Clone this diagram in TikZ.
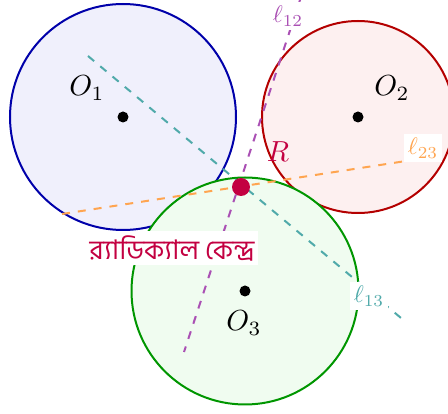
\documentclass[tikz,border=0pt]{standalone}
\usepackage{fontspec}
\newfontfamily\bnfont[Script=Bengali]{Hind Siliguri}
\definecolor{cblue}{RGB}{0,0,170}
\definecolor{fblue}{RGB}{240,240,252}
\definecolor{cred}{RGB}{180,0,0}
\definecolor{fred}{RGB}{253,240,240}
\definecolor{cgreen}{RGB}{0,150,0}
\definecolor{fgreen}{RGB}{240,252,240}
\definecolor{cpurple}{RGB}{170,80,180}
\definecolor{cteal}{RGB}{80,170,170}
\definecolor{corange}{RGB}{255,165,80}
\definecolor{ccrimson}{RGB}{195,0,65}
\tikzset{
  circ/.style={circle, line width=2pt, inner sep=0pt},
  radline/.style={line width=2pt, dash pattern=on 8pt off 8pt},
  ctr/.style={circle, fill=black, inner sep=0pt, minimum size=11pt},
  biglab/.style={scale=2.9, inner sep=0pt},
  linelab/.style={scale=2.4, fill=white, inner sep=1.6pt},
}
\begin{document}
\begin{tikzpicture}[x=1pt,y=-1pt]
\useasboundingbox (0,0) rectangle (448,414);
% circles
\node[circ, draw=cblue, fill=fblue, minimum size=226pt] (C1) at (123,117) {};
\node[circ, draw=cred, fill=fred, minimum size=192pt] (C2) at (358,117) {};
\node[circ, draw=cgreen, fill=fgreen, minimum size=227pt] (C3) at (245,291) {};
% radical axes end points
\coordinate (a12) at (301,-3);
\coordinate (b12) at (184,352);
\coordinate (a13) at (88,56);
\coordinate (b13) at (401,318);
\coordinate (a23) at (62,214);
\coordinate (b23) at (406,161);
\draw[radline, cpurple] (a12) -- (b12);
\draw[radline, cteal] (a13) -- (b13);
\draw[radline, corange] (a23) -- (b23);
% centres
\node[ctr] (O1) at (123,117) {};
\node[ctr] (O2) at (358,117) {};
\node[ctr] (O3) at (245,291) {};
\node[biglab] (L1) at (87,88) {$O_1$};
\node[biglab] (L2) at (392,88) {$O_2$};
\node[biglab] (L3) at (244,323) {$O_3$};
% line labels
\node[linelab, text=cpurple] (l12) at (288,16) {$\ell_{12}$};
\node[linelab, text=corange] (l23) at (423,148) {$\ell_{23}$};
\node[linelab, text=cteal] (l13) at (369,296) {$\ell_{13}$};
% radical centre
\node[circle, fill=ccrimson, inner sep=0pt, minimum size=18pt] (R) at (241,187) {};
\node[biglab, text=ccrimson] (RL) at (278,152) {$R$};
\node[fill=white, text=ccrimson, inner sep=4pt, font=\bnfont\fontsize{27}{31}\selectfont] (RC) at (172,248) {র^^^^200d্যাডিক্যাল কেন্দ্র};
\end{tikzpicture}
\end{document}
